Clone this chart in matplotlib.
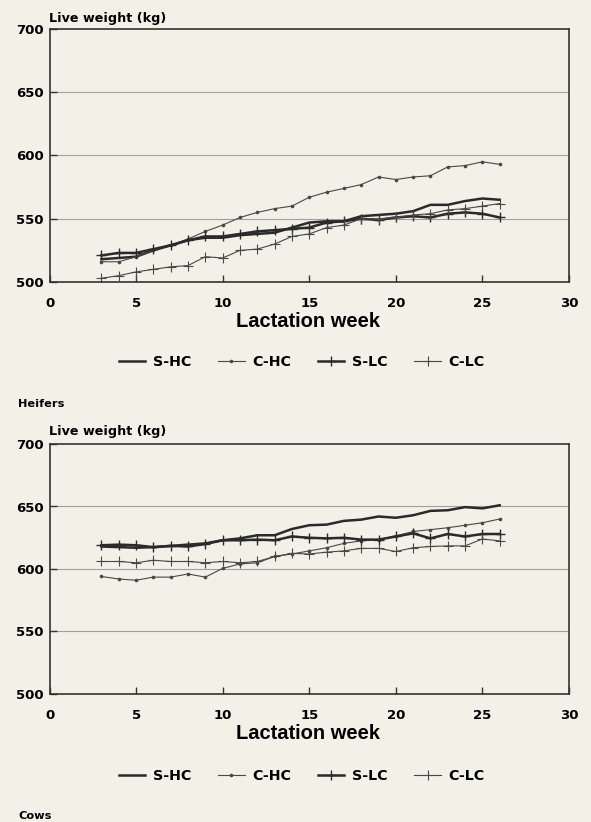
import matplotlib
matplotlib.use("Agg")
import matplotlib.pyplot as plt
from matplotlib.lines import Line2D

weeks = list(range(3, 27))

# Heifers
h_shc = [518, 519, 520, 525, 529, 533, 535, 535, 537, 538, 539, 543, 547, 548, 548, 552, 553, 554, 556, 561, 561, 564, 566, 565]
h_chc = [516, 516, 520, 525, 529, 534, 540, 545, 551, 555, 558, 560, 567, 571, 574, 577, 583, 581, 583, 584, 591, 592, 595, 593]
h_slc = [521, 523, 523, 526, 529, 533, 536, 536, 538, 540, 541, 542, 543, 547, 548, 550, 549, 551, 552, 551, 554, 555, 554, 551]
h_clc = [503, 505, 508, 510, 512, 513, 520, 519, 525, 526, 530, 536, 538, 543, 545, 550, 550, 551, 553, 554, 557, 558, 560, 562]

# Cows
c_shc = [618, 617.5, 617, 617.5, 618.5, 619.5, 620.5, 623, 624.5, 627, 627, 632, 635, 635.5, 638.5, 639.5, 642, 641, 643, 646.5, 647, 649.5, 648.5, 651]
c_chc = [594, 592, 591, 593.5, 593.5, 596, 593.5, 600.5, 604, 605, 610, 612, 614.5, 617, 620.5, 622.5, 623.5, 626.5, 630, 631.5, 633, 635, 637, 640]
c_slc = [619, 619.5, 619, 617.5, 618.5, 618, 620, 623, 623, 623.5, 623, 626, 625, 624.5, 625, 623.5, 623.5, 626, 628.5, 624.5, 628, 626, 628, 628]
c_clc = [606, 606, 605, 607, 606, 606, 605, 606, 605, 606, 610, 612.5, 612, 613.5, 614.5, 616.5, 616.5, 614, 617, 618, 618.5, 618.5, 624, 622.5]

labels = ["S-HC", "C-HC", "S-LC", "C-LC"]
yticks = [500, 550, 600, 650, 700]
xticks = [0, 5, 10, 15, 20, 25, 30]

BG = "#f1f1e8"
DARK = "#2a2a2a"
FONT = "DejaVu Sans"
XFONT = "Liberation Sans"

styles = [
    dict(color=DARK, lw=1.8, marker=None),
    dict(color="#484848", lw=0.8, marker='o', ms=1.6),
    dict(color=DARK, lw=1.8, marker='+', ms=7.5, mew=1.0),
    dict(color="#484848", lw=0.8, marker='+', ms=7.5, mew=0.8),
]

fig = plt.figure(figsize=(5.91, 8.22), dpi=100)
fig.patch.set_facecolor(BG)

W, H = 591, 822

def axes_px(left, top, right, bottom):
    return fig.add_axes([left / W, 1 - bottom / H, (right - left) / W, (bottom - top) / H])

def draw(ax, series, ylabel_base, xlabel_y, legend_y, caption, caption_base):
    ax.set_facecolor(BG)
    for s, st in zip(series, styles):
        ax.plot(weeks, s, **st)
    ax.set_xlim(0, 30)
    ax.set_ylim(500, 700)
    ax.set_xticks(xticks)
    ax.set_yticks(yticks)
    ax.set_xticklabels([str(t) for t in xticks], fontfamily=FONT, fontweight='bold', fontsize=9.5)
    ax.set_yticklabels([str(t) for t in yticks], fontfamily=FONT, fontweight='bold', fontsize=9.5)
    ax.tick_params(axis='both', direction='in', length=5, width=1, color='#333333')
    ax.tick_params(axis='x', pad=10.5)
    ax.tick_params(axis='y', pad=4)
    for v in [550, 600, 650]:
        ax.axhline(v, color='#a0a0a0', lw=0.8, zorder=0)
    for sp in ax.spines.values():
        sp.set_color('#333333')
        sp.set_linewidth(1.2)
    fig.text(49 / W, 1 - ylabel_base / H, "Live weight (kg)", fontfamily=FONT, fontweight='bold',
             fontsize=9.2, ha='left', va='baseline')
    fig.text(308 / W, 1 - xlabel_y / H, "Lactation week", fontfamily=XFONT, fontweight='bold',
             fontsize=14.5, ha='center', va='center')
    handles = [Line2D([], [], **st) for st in styles]
    fig.legend(handles, labels, loc='center', bbox_to_anchor=(302 / W, 1 - legend_y / H), ncol=4,
               frameon=False, prop=dict(family=FONT, weight='bold', size=10.3),
               handlelength=1.85, columnspacing=1.85, handletextpad=0.55)
    fig.text(18 / W, 1 - caption_base / H, caption, fontfamily=FONT, fontweight='bold',
             fontsize=8.2, ha='left', va='baseline')

ax1 = axes_px(49.5, 29, 569, 282)
draw(ax1, [h_shc, h_chc, h_slc, h_clc], 21.7, 321, 362, "Heifers", 406.5)

ax2 = axes_px(49.5, 444, 569, 694)
draw(ax2, [c_shc, c_chc, c_slc, c_clc], 435, 733, 776, "Cows", 819)

fig.savefig("out.png", dpi=100, facecolor=BG)
